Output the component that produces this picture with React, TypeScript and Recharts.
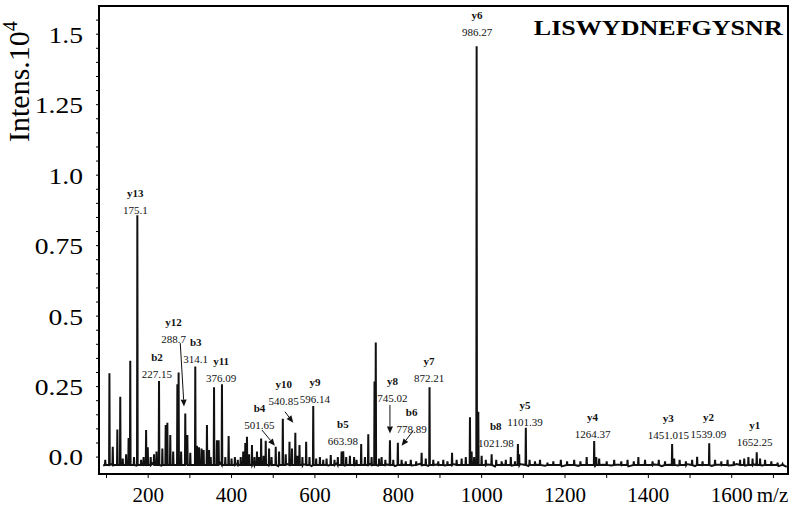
import { LineChart, Line, XAxis, YAxis, ReferenceDot, ReferenceLine } from 'recharts';

const FONT = "'Liberation Serif', 'Times New Roman', serif";

// peaks: m/z and intensity (x10^4)
const peakMz = [
  97, 107, 115, 126, 133, 139, 147, 153, 157, 166, 174, 183, 189, 195, 199, 206, 214, 220, 226, 234,
  242, 246, 253, 260, 270, 273, 279, 289, 294, 301, 313, 317, 322, 328, 333, 341, 346, 350, 358, 365,
  369, 377, 385, 393, 400, 408, 415, 422, 428, 433, 437, 442, 449, 455, 461, 466, 471, 477, 482, 490,
  496, 506, 514, 523, 530, 539, 545, 553, 558, 563, 570, 579, 587, 596, 603, 612, 620, 628, 638, 647,
  655, 664, 668, 675, 684, 694, 700, 711, 720, 728, 736, 743, 746, 754, 760, 769, 780, 788, 799, 808,
  818, 830, 843, 856, 866, 875, 884, 896, 908, 918, 929, 940, 952, 962, 972, 976, 982, 988, 992, 1000,
  1010, 1024, 1035, 1048, 1058, 1070, 1080, 1087, 1090, 1106, 1115, 1128, 1140, 1158, 1172, 1190, 1205, 1222, 1237, 1252,
  1270, 1275, 1282, 1300, 1318, 1335, 1350, 1365, 1376, 1392, 1410, 1425, 1440, 1457, 1462, 1475, 1490, 1505, 1517, 1530,
  1546, 1560, 1575, 1590, 1605, 1620, 1630, 1640, 1650, 1660, 1668, 1680, 1695, 1710, 1722,
];
const peakIntensity = [
  -0.01, 0.297, 0.037, 0.098, 0.214, -0.005, 0.01, 0.068, 0.342, 0.0, 0.858, -0.01, 0.0, 0.096, 0.035, 0.0, 0.01, 0.02, 0.27, 0.03,
  0.114, 0.122, 0.078, 0.02, 0.258, 0.3, 0.02, 0.155, 0.078, 0.015, 0.321, 0.04, 0.035, 0.03, 0.025, 0.114, 0.025, 0.0, 0.248, 0.06,
  0.06, 0.258, 0.0, 0.075, -0.005, 0.0, -0.01, 0.0, 0.02, 0.05, 0.072, 0.01, 0.043, 0.0, 0.02, 0.0, 0.066, 0.005, 0.058, 0.03,
  0.0, 0.037, 0.02, 0.136, 0.01, 0.054, 0.03, 0.086, 0.005, 0.043, 0.0, 0.054, 0.0, 0.181, -0.005, 0.0, -0.01, -0.005, 0.007, -0.01,
  0.0, 0.02, 0.021, 0.0, 0.005, 0.0, -0.01, 0.046, 0.0, 0.081, 0.0, 0.268, 0.406, -0.005, 0.0, -0.01, 0.06, -0.01, 0.051, -0.01,
  -0.015, -0.01, -0.015, 0.015, -0.005, 0.248, -0.01, -0.015, -0.01, -0.015, 0.015, -0.01, -0.005, 0.0, 0.141, 0.02, 0.0, 1.457, 0.161, 0.005,
  -0.01, 0.01, -0.01, -0.015, -0.01, 0.0, -0.015, 0.046, 0.01, 0.104, -0.01, -0.015, -0.01, -0.02, -0.015, -0.01, -0.015, -0.01, -0.015, 0.0,
  0.057, 0.0, -0.005, -0.015, -0.01, -0.015, -0.01, -0.015, 0.0, -0.01, -0.015, -0.01, -0.015, 0.046, -0.005, -0.01, -0.015, -0.01, 0.001, -0.015,
  0.049, -0.01, -0.015, -0.01, -0.015, -0.01, -0.005, 0.0, -0.005, 0.017, -0.005, -0.01, -0.015, -0.02, -0.025,
];

// noisy baseline
const baselineMz = [
  92, 112, 132, 152, 172, 192, 212, 232, 252, 272, 292, 312, 332, 352, 372, 392, 412, 432, 452, 472,
  492, 512, 532, 552, 572, 592, 612, 632, 652, 672, 692, 712, 732, 752, 772, 792, 812, 832, 852, 872,
  892, 912, 932, 952, 972, 992, 1012, 1032, 1052, 1072, 1092, 1112, 1132, 1152, 1172, 1192, 1212, 1232, 1252, 1272,
  1292, 1312, 1332, 1352, 1372, 1392, 1412, 1432, 1452, 1472, 1492, 1512, 1532, 1552, 1572, 1592, 1612, 1632, 1652, 1672,
  1692, 1712, 1732,
];
const baselineIntensity = [
  -0.03, -0.025, -0.032, -0.022, -0.03, -0.027, -0.02, -0.03, -0.022, -0.028, -0.02, -0.03, -0.024, -0.028, -0.02, -0.03, -0.025, -0.033, -0.022, -0.03,
  -0.026, -0.032, -0.024, -0.03, -0.025, -0.032, -0.026, -0.03, -0.023, -0.03, -0.027, -0.033, -0.025, -0.03, -0.026, -0.032, -0.027, -0.03, -0.024, -0.031,
  -0.026, -0.03, -0.025, -0.032, -0.027, -0.03, -0.026, -0.033, -0.027, -0.03, -0.025, -0.032, -0.027, -0.031, -0.026, -0.033, -0.028, -0.031, -0.026, -0.032,
  -0.027, -0.03, -0.026, -0.033, -0.028, -0.031, -0.026, -0.032, -0.027, -0.03, -0.025, -0.032, -0.027, -0.031, -0.026, -0.03, -0.025, -0.03, -0.026, -0.03,
  -0.027, -0.032, -0.035,
];

// annotated fragment ions
const ionNames = ['y13', 'b2', 'y12', 'b3', 'y11', 'b4', 'y10', 'y9', 'b5', 'y8', 'b6', 'y7', 'y6', 'b8', 'y5', 'y4', 'y3', 'y2', 'y1'];
const ionMasses = ['175.1', '227.15', '288.7', '314.1', '376.09', '501.65', '540.85', '596.14', '663.98', '745.02', '778.89', '872.21', '986.27', '1021.98', '1101.39', '1264.37', '1451.015', '1539.09', '1652.25'];
const ionLabelMz = [169, 221, 261, 314, 375, 467, 525, 600, 667, 786, 832, 874, 989, 1034, 1104, 1266, 1448, 1544, 1655];
const ionLabelIntensity = [0.937, 0.353, 0.48, 0.406, 0.342, 0.175, 0.259, 0.267, 0.116, 0.271, 0.159, 0.341, 1.568, 0.11, 0.185, 0.143, 0.138, 0.143, 0.114];

const arrowFromMz = [277, 473, 528, 780, 836];
const arrowFromIntensity = [0.404, 0.096, 0.161, 0.185, 0.094];
const arrowToMz = [286, 504, 548, 780, 808];
const arrowToIntensity = [0.179, 0.04, 0.122, 0.084, 0.04];

const xTicks = [100, 200, 300, 400, 500, 600, 700, 800, 900, 1000, 1100, 1200, 1300, 1400, 1500, 1600, 1700];
const yTicks = [
  0, 0.05, 0.1, 0.15, 0.2, 0.25, 0.3, 0.35, 0.4, 0.45, 0.5, 0.55, 0.6, 0.65, 0.7, 0.75,
  0.8, 0.85, 0.9, 0.95, 1.0, 1.05, 1.1, 1.15, 1.2, 1.25, 1.3, 1.35, 1.4, 1.45, 1.5, 1.55,
];

const X_MIN = 82;
const X_MAX = 1735;
const Y_MIN = -0.06;
const Y_MAX = 1.6;
const FOOT = -0.028;

const spectrum = [
  ...baselineMz
    .map((mz, i) => ({ mz, v: baselineIntensity[i] }))
    .filter((p) => !peakMz.some((m) => Math.abs(m - p.mz) < 1.5)),
  ...peakMz.flatMap((mz, i) => [
    { mz: mz - 0.8, v: FOOT },
    { mz, v: peakIntensity[i] },
    { mz: mz + 0.8, v: FOOT },
  ]),
].sort((a, b) => a.mz - b.mz);

const XTick = (props: any) => {
  const { x, y, payload } = props;
  const v = payload.value;
  if (v % 200 !== 0) return <g />;
  return (
    <g fontFamily={FONT} fontSize={21} fill="#000">
      <text x={x} y={y + 22} textAnchor="middle">{v}</text>
      {v === 1600 && <text x={x + 25} y={y + 22} textAnchor="start">m/z</text>}
    </g>
  );
};

const YTick = (props: any) => {
  const { x, y, payload } = props;
  const v = payload.value;
  if (Math.abs(v * 4 - Math.round(v * 4)) > 1e-6) return <g />;
  const txt = v === 0 ? '0.0' : v === 1 ? '1.0' : String(v);
  return (
    <text transform={`translate(${x},${y}) scale(1.15,1)`} x={0} y={0} dy="0.35em" textAnchor="end"
      fontFamily={FONT} fontSize={24} fill="#000">{txt}</text>
  );
};

// y title; also draws the closed box around the plot area
const YTitle = (props: any) => {
  const vb = props.viewBox || { x: 0, y: 6, width: 99, height: 468 };
  const left = vb.x + vb.width;
  return (
    <g>
      <rect x={left} y={vb.y} width={800 - 12 - left} height={vb.height} fill="none" stroke="#000" strokeWidth={2} />
      <text x={29} y={142} transform="rotate(-90, 29, 142)" textAnchor="start" fontFamily={FONT} fontSize={30} fill="#000">
        Intens.10<tspan dy={-12} fontSize={20}>4</tspan>
      </text>
    </g>
  );
};

const IonLabel = ({ cx, cy, name, mass }: any) => (
  <g fontFamily={FONT} fill="#111" textAnchor="middle">
    <text x={cx} y={cy} dy="0.35em" fontSize={11} fontWeight="bold">{name}</text>
    <text x={cx} y={cy + 17} dy="0.35em" fontSize={11}>{mass}</text>
  </g>
);

const Arrow = ({ x1, y1, x2, y2 }: any) => {
  const a = Math.atan2(y2 - y1, x2 - x1);
  const len = 7;
  const w = 3;
  const bx = x2 - len * Math.cos(a);
  const by = y2 - len * Math.sin(a);
  const pts = `${x2},${y2} ${bx + w * Math.sin(a)},${by - w * Math.cos(a)} ${bx - w * Math.sin(a)},${by + w * Math.cos(a)}`;
  return (
    <g>
      <line x1={x1} y1={y1} x2={bx} y2={by} stroke="#111" strokeWidth={1} />
      <polygon points={pts} fill="#111" />
    </g>
  );
};

const axisStroke = { stroke: '#000', strokeWidth: 2 };

export default function App() {
  return (
    <div style={{ position: 'absolute', left: 0, top: 0, width: 800, height: 522, background: '#fff' }}>
      <LineChart width={800} height={522} data={spectrum} margin={{ top: 6, right: 12, bottom: 0, left: 0 }}>
        <XAxis dataKey="mz" type="number" domain={[X_MIN, X_MAX]} ticks={xTicks} interval={0} allowDataOverflow
          height={48} tickSize={4} tickMargin={2} tick={<XTick />} axisLine={axisStroke} tickLine={{ stroke: '#000' }} />
        <YAxis type="number" domain={[Y_MIN, Y_MAX]} ticks={yTicks} interval={0} allowDataOverflow width={99}
          tickSize={3} tickMargin={13} tick={<YTick />} axisLine={axisStroke} tickLine={{ stroke: '#000' }} label={<YTitle />} />
        <Line dataKey="v" type="linear" stroke="#111" strokeWidth={2} dot={false} isAnimationActive={false} />
        {ionNames.map((name, i) => (
          <ReferenceDot key={name} x={ionLabelMz[i]} y={ionLabelIntensity[i]} r={1} ifOverflow="visible"
            shape={(p: any) => <IonLabel cx={p.cx} cy={p.cy} name={name} mass={ionMasses[i]} />} />
        ))}
        {arrowFromMz.map((m, i) => (
          <ReferenceLine key={i} ifOverflow="visible"
            segment={[{ x: m, y: arrowFromIntensity[i] }, { x: arrowToMz[i], y: arrowToIntensity[i] }]}
            shape={(p: any) => <Arrow {...p} />} />
        ))}
      </LineChart>
      <div style={{ position: 'absolute', right: 17, top: 18, fontFamily: FONT, fontSize: 21, fontWeight: 'bold',
        lineHeight: '21px', transform: 'scaleX(1.24)', transformOrigin: 'right center', whiteSpace: 'nowrap', color: '#000' }}>
        LISWYDNEFGYSNR
      </div>
    </div>
  );
}
